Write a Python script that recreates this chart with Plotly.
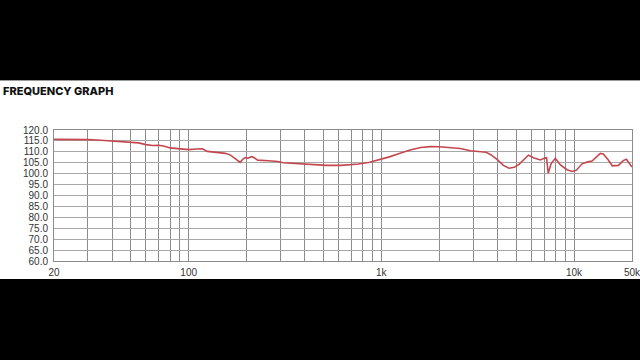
import plotly.graph_objects as go

freq = [20, 25, 30, 35, 40, 45, 50, 55, 60, 65, 70, 75, 80, 90, 100, 110, 118, 125, 140, 155,
        165, 175, 185, 192, 197, 203, 212, 218, 228, 260, 290, 310, 350, 420, 520, 620, 760,
        870, 980, 1100, 1250, 1410, 1600, 1800, 2000, 2300, 2570, 2900, 3200, 3500, 3700,
        4000, 4300, 4600, 4900, 5200, 5600, 5800, 6200, 6700, 7000, 7200, 7350, 7600, 8000,
        8500, 9200, 9800, 10300, 11000, 11800, 12400, 13700, 14200, 15000, 15800, 17000,
        18000, 18700, 20000]
spl = [115.7, 115.8, 115.6, 115.3, 115.0, 114.4, 114.4, 114.1, 113.3, 112.9, 113.0, 112.6,
       111.8, 111.5, 111.0, 111.3, 111.4, 110.2, 109.6, 109.3, 108.5, 106.8, 105.2, 106.8,
       107.4, 107.1, 107.8, 107.4, 106.2, 105.9, 105.6, 105.0, 104.7, 104.1, 103.8, 103.8,
       104.4, 105.2, 106.3, 107.7, 109.3, 110.8, 112.0, 112.4, 112.3, 112.0, 111.5, 110.5,
       110.2, 109.8, 108.7, 106.4, 103.8, 102.5, 102.9, 104.4, 107.2, 108.5, 107.2, 106.3,
       107.0, 107.3, 100.2, 104.5, 107.0, 104.0, 101.8, 101.0, 101.6, 104.5, 105.4, 105.8,
       109.3, 109.0, 106.5, 103.6, 103.8, 106.0, 106.6, 103.0]

grid_x = [20, 30, 40, 50, 60, 70, 80, 90, 100, 200, 300, 400, 500, 600, 700, 800, 900,
          1000, 2000, 3000, 4000, 5000, 6000, 7000, 8000, 9000, 10000, 20000]
labels_x = {20: "20", 100: "100", 1000: "1k", 10000: "10k", 20000: "50k"}
ticktext_x = [labels_x.get(v, "") for v in grid_x]

y_ticks = [60, 65, 70, 75, 80, 85, 90, 95, 100, 105, 110, 115, 120]
y_text = [f"{v:.1f}" for v in y_ticks]

fig = go.Figure()
fig.add_trace(go.Scatter(x=freq, y=spl, mode="lines",
                         line=dict(color="#c4474f", width=1.6), hoverinfo="skip"))

tickfont = dict(family="Liberation Sans, Arial, sans-serif", size=10, color="#333333")

fig.update_layout(
    width=640, height=360,
    margin=dict(l=54, r=8, t=130, b=99, autoexpand=False),
    paper_bgcolor="white", plot_bgcolor="white",
    showlegend=False,
    title=dict(text="FREQUENCY GRAPH", x=3/640, xref="container", xanchor="left",
               y=1 - 91/360, yref="container", yanchor="middle",
               font=dict(family="Inter, sans-serif", size=11, color="#111111", weight=800)),
    xaxis=dict(type="log", range=[1.30103, 4.30103], tickvals=grid_x, ticktext=ticktext_x,
               showgrid=True, gridcolor="#8c8c8c", gridwidth=1, ticks="",
               showline=True, linecolor="#8c8c8c", mirror=True, zeroline=False,
               tickfont=tickfont, ticklabelstandoff=2, ticklabeloverflow="allow",
               automargin=False),
    yaxis=dict(range=[60, 120], tickvals=y_ticks, ticktext=y_text,
               showgrid=True, gridcolor="#a8a8a8", gridwidth=1, ticks="",
               showline=True, linecolor="#8c8c8c", mirror=True, zeroline=False,
               tickfont=tickfont, ticklabelstandoff=3, ticklabeloverflow="allow",
               automargin=False),
    shapes=[
        dict(type="rect", xref="paper", yref="paper", x0=-1, x1=2, y0=(261-80)/131, y1=3,
             fillcolor="black", line=dict(width=0), layer="above"),
        dict(type="line", xref="paper", yref="paper", x0=-1, x1=2, y0=(261-80.5)/131,
             y1=(261-80.5)/131, line=dict(color="#9a9a9a", width=1), layer="above"),
        dict(type="rect", xref="paper", yref="paper", x0=-1, x1=2, y0=-3, y1=(261-279)/131,
             fillcolor="black", line=dict(width=0), layer="above"),
    ],
)

fig.write_html("out.html")
